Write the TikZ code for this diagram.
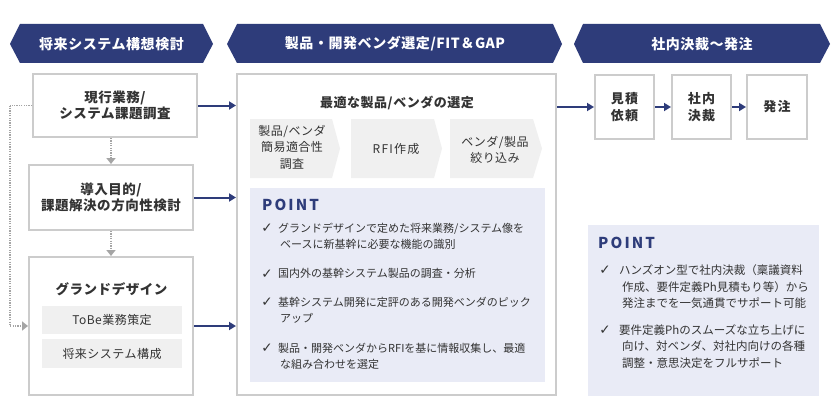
\documentclass[tikz,border=0pt]{standalone}
\usepackage{fontspec}
\setmainfont{Noto Sans CJK JP}
\newfontfamily\jpmid[LetterSpace=4]{Noto Sans CJK JP}
\newfontfamily\jpwide[LetterSpace=10]{Noto Sans CJK JP}
\newfontfamily\chkfont{DejaVu Sans}
\usetikzlibrary{arrows.meta}
\definecolor{navy}{RGB}{46,60,122}
\definecolor{boxgray}{RGB}{204,204,204}
\definecolor{dotgray}{RGB}{165,165,165}
\definecolor{stepgray}{RGB}{240,240,240}
\definecolor{ptfill}{RGB}{233,235,246}
\definecolor{txt}{RGB}{51,51,51}
\begin{document}
\begin{tikzpicture}[x=1pt,y=-1pt,
  bannertxt/.style={text=white, font=\jpmid\bfseries\fontsize{14}{16}\selectfont, inner sep=0pt},
  box/.style={draw=boxgray, line width=2pt, fill=white, inner sep=0pt},
  boxtxt/.style={align=center, text=txt, font=\jpmid\bfseries\fontsize{13.5}{16}\selectfont},
  rtxt/.style={align=center, text=txt, font=\jpwide\bfseries\fontsize{13}{17}\selectfont},
  subbox/.style={fill=stepgray, inner sep=0pt, text=txt, font=\jpmid\fontsize{12}{14}\selectfont},
  steptxt/.style={align=center, text=txt, font=\jpmid\fontsize{12}{16.5}\selectfont, inner sep=0pt},
  nav/.style={draw=navy, line width=2pt, -{Triangle[length=7pt,width=8pt]}},
  dotarrow/.style={draw=dotgray, line width=1.6pt, dash pattern=on 1.2pt off 1.2pt, -{Triangle[length=6pt,width=9pt]}},
  dotline/.style={draw=dotgray, line width=1.6pt, dash pattern=on 1.2pt off 1.2pt},
  ptbox/.style={fill=ptfill, inner sep=0pt},
  pthead/.style={anchor=west, inner sep=0pt, text=navy, font=\bfseries\addfontfeature{LetterSpace=14}\fontsize{15}{16}\selectfont},
  chk/.style={inner sep=0pt, text=txt, font=\chkfont\fontsize{13.5}{14}\selectfont},
  ptxt/.style={anchor=north west, align=left, inner sep=0pt, text=txt, font=\fontsize{11}{16.5}\selectfont},
  rptxt/.style={anchor=north west, align=left, inner sep=0pt, text=txt, font=\fontsize{11.5}{16.8}\selectfont},
]
\useasboundingbox (0,0) rectangle (840,420);
\fill[white] (0,0) rectangle (840,420);

% banners
\fill[navy] (10,44) -- (20,24) -- (203,24) -- (213,44) -- (203,63) -- (20,63) -- cycle;
\node[bannertxt] (b1) at (111.5,44) {将来システム構想検討};
\fill[navy] (227,44) -- (237,24) -- (553,24) -- (562,44) -- (553,63) -- (237,63) -- cycle;
\node[bannertxt] (b2) at (395,44) {製品・開発ベンダ選定/FIT＆GAP};
\fill[navy] (574,44) -- (583,24) -- (820,24) -- (830,44) -- (820,63) -- (583,63) -- cycle;
\node[bannertxt] (b3) at (702,44) {社内決裁～発注};

% left column
\node[box, boxtxt, minimum width=164, minimum height=63] (a1) at (115,105.5) {現行業務/\\システム課題調査};
\node[box, boxtxt, minimum width=164, minimum height=65] (a2) at (111,197.5) {導入目的/\\課題解決の方向性検討};
\node[box, minimum width=164, minimum height=138] (a3) at (111,326) {};
\node[boxtxt] (a3t) at (111.5,289) {グランドデザイン};
\node[subbox, minimum width=140, minimum height=28] (a3a) at (112,320) {ToBe業務策定};
\node[subbox, minimum width=140, minimum height=29] (a3b) at (112,353.5) {将来システム構成};

\draw[dotarrow] (a2.north |- a1.south) -- (a2.north);
\draw[dotarrow] (a2.south) -- (a3.north);
\coordinate (lc) at (10,105.5);
\draw[dotline] (a1.west) -- (lc);
\draw[dotarrow] (lc) |- (a3.west);

% middle box
\node[box, minimum width=319, minimum height=321] (mid) at (396.5,234.5) {};
\node[boxtxt, font=\jpmid\bfseries\fontsize{13}{16}\selectfont] (midt) at (397,103) {最適な製品/ベンダの選定};

\fill[stepgray] (250,119) -- (332,119) -- (340,148.5) -- (332,178) -- (250,178) -- cycle;
\node[steptxt] (s1) at (292,147) {製品/ベンダ\\簡易適合性\\調査};
\fill[stepgray] (351,119) -- (434,119) -- (442,148.5) -- (434,178) -- (351,178) -- cycle;
\node[steptxt, font=\jpwide\fontsize{12}{16.5}\selectfont] (s2) at (396,149) {RFI作成};
\fill[stepgray] (450,119) -- (533,119) -- (542,148.5) -- (533,178) -- (450,178) -- cycle;
\node[steptxt] (s3) at (495,150) {ベンダ/製品\\絞り込み};

\draw[nav] (a1.east) -- (a1.east -| mid.west);
\draw[nav] (a2.east) -- (a2.east -| mid.west);
\draw[nav] (a3.east) -- (a3.east -| mid.west);

% middle POINT
\node[ptbox, minimum width=295, minimum height=194] (p1) at (397.5,285) {};
\node[pthead] (p1h) at (262,205) {POINT};
\node[chk] (c1) at (267,228) {✓};
\node[ptxt] (t1) at (278,222.5) {グランドデザインで定めた将来業務/システム像を\\\hspace{2pt}ベースに新基幹に必要な機能の識別};
\node[chk] (c2) at (267,274) {✓};
\node[ptxt] (t2) at (278,268.5) {国内外の基幹システム製品の調査・分析};
\node[chk] (c3) at (267,302) {✓};
\node[ptxt] (t3) at (278,296.5) {基幹システム開発に定評のある開発ベンダのピック\\\hspace{2pt}アップ};
\node[chk] (c4) at (267,348) {✓};
\node[ptxt] (t4) at (278,342.5) {製品・開発ベンダからRFIを基に情報収集し、最適\\\hspace{2pt}な組み合わせを選定};

% right boxes
\node[box, rtxt, minimum width=59, minimum height=64] (r1) at (624.5,107) {見積\\依頼};
\node[box, rtxt, minimum width=59, minimum height=64] (r2) at (701.5,107) {社内\\決裁};
\node[box, rtxt, minimum width=60, minimum height=64] (r3) at (777,107) {発注};
\draw[nav] (mid.east |- r1.west) -- (r1.west);
\draw[nav] (r1.east) -- (r2.west);
\draw[nav] (r2.east) -- (r3.west);

% right POINT
\node[ptbox, minimum width=231, minimum height=171] (p2) at (703.5,310.5) {};
\node[pthead] (p2h) at (598,243) {POINT};
\node[chk] (c5) at (605,270) {✓};
\node[rptxt] (t5) at (619,264.2) {ハンズオン型で社内決裁（稟議資料\\\hspace{3pt}作成、要件定義Ph見積もり等）から\\\hspace{3pt}発注までを一気通貫でサポート可能};
\node[chk] (c6) at (605,330) {✓};
\node[rptxt] (t6) at (619,324.2) {要件定義Phのスムーズな立ち上げに\\\hspace{3pt}向け、対ベンダ、対社内向けの各種\\\hspace{3pt}調整・意思決定をフルサポート};
\end{tikzpicture}
\end{document}
